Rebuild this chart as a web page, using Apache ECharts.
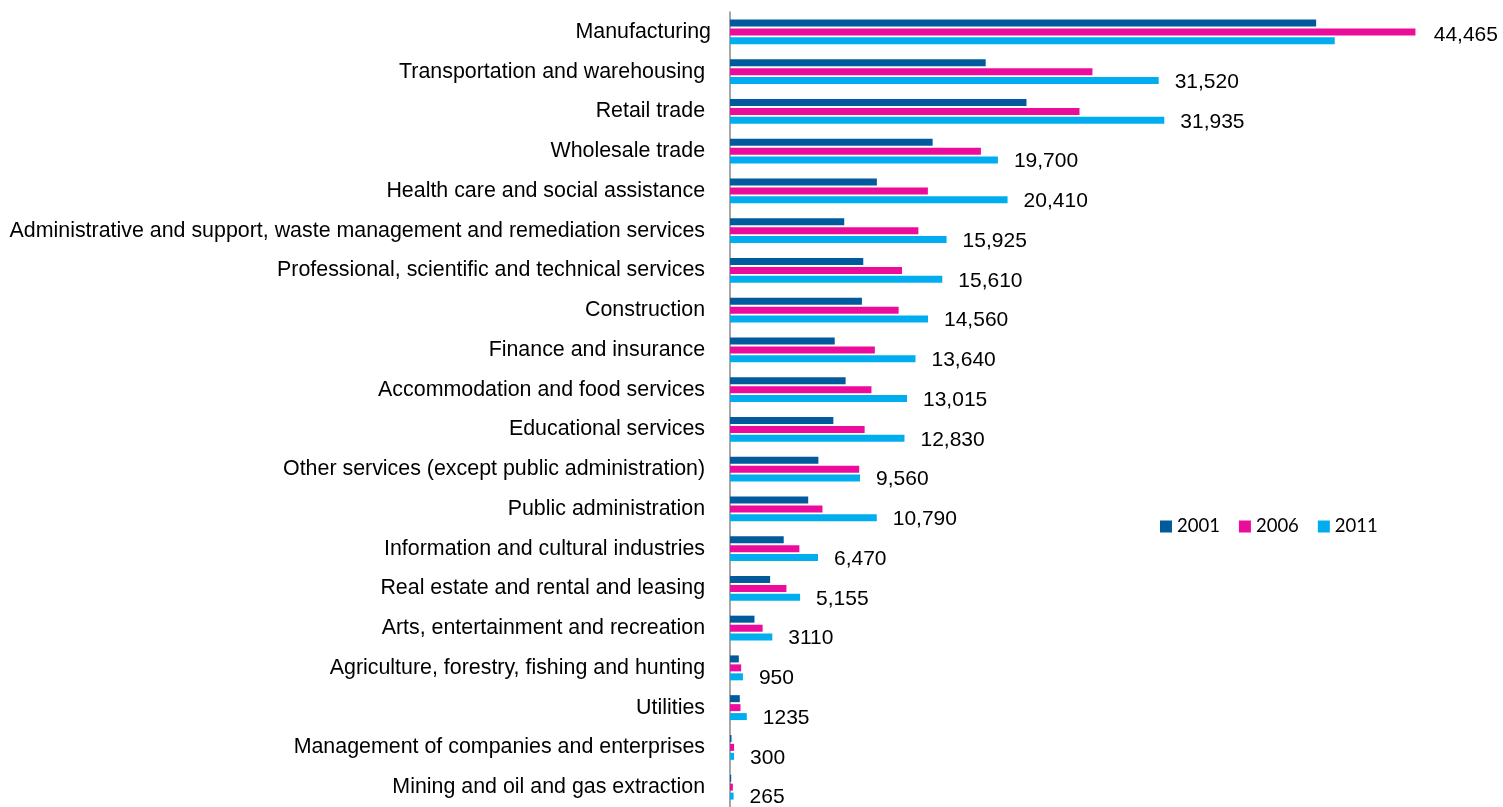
<!DOCTYPE html>
<html>
<head>
<meta charset="utf-8">
<script src="https://cdn.jsdelivr.net/npm/echarts@6/dist/echarts.min.js"></script>
<style>
html,body{margin:0;padding:0;background:#fff;}
#chart{width:1503px;height:807px;}
</style>
</head>
<body>
<div id="chart"></div>
<script>
const categories = [
  'Manufacturing',
  'Transportation and warehousing',
  'Retail trade',
  'Wholesale trade',
  'Health care and social assistance',
  'Administrative and support, waste management and remediation services',
  'Professional, scientific and technical services',
  'Construction',
  'Finance and insurance',
  'Accommodation and food services',
  'Educational services',
  'Other services (except public administration)',
  'Public administration',
  'Information and cultural industries',
  'Real estate and rental and leasing',
  'Arts, entertainment and recreation',
  'Agriculture, forestry, fishing and hunting',
  'Utilities',
  'Management of companies and enterprises',
  'Mining and oil and gas extraction'
];
const seriesNames = ['2001', '2006', '2011'];
const values2001 = [43100, 18800, 21800, 14900, 10800, 8400, 9800, 9700, 7700, 8500, 7600, 6500, 5750, 3950, 2950, 1800, 650, 720, 110, 90];
const values2006 = [50400, 26650, 25700, 18450, 14550, 13850, 12650, 12400, 10650, 10400, 9900, 9500, 6800, 5100, 4150, 2400, 820, 770, 300, 210];
const values2011 = [44465, 31520, 31935, 19700, 20410, 15925, 15610, 14560, 13640, 13015, 12830, 9560, 10790, 6470, 5155, 3110, 950, 1235, 300, 265];
const labels2011 = ['44,465', '31,520', '31,935', '19,700', '20,410', '15,925', '15,610', '14,560', '13,640', '13,015', '12,830', '9,560', '10,790', '6,470', '5,155', '3110', '950', '1235', '300', '265'];

const colors = ['#005a9c', '#ec0c9c', '#00aeef'];
const FONT = '"Liberation Sans", Arial, sans-serif';

const chart = echarts.init(document.getElementById('chart'), null, {renderer: 'canvas'});

const data2011 = values2011.map((v, i) => i === 0 ? {value: v, label: {offset: [83, -6]}} : v);

const barBase = {
  type: 'bar',
  barWidth: 7,
  barGap: '28%',
  animation: false
};

chart.setOption({
  animation: false,
  color: colors,
  grid: {left: 730, top: 12, width: 748, height: 798, containLabel: false},
  legend: {
    data: seriesNames,
    left: 1160,
    top: 517,
    padding: 0,
    icon: 'rect',
    itemWidth: 12,
    itemHeight: 12,
    itemGap: 19,
    textStyle: {fontFamily: 'Lato, "Open Sans", sans-serif', fontSize: 18.5, color: '#000'}
  },
  xAxis: {
    type: 'value', min: 0, max: 55000, show: false,
    splitLine: {show: false}
  },
  yAxis: {
    type: 'category',
    inverse: true,
    data: categories,
    axisLine: {show: true, lineStyle: {color: '#8a8a8a', width: 1.5}},
    axisTick: {show: false},
    axisLabel: {
      fontFamily: FONT, fontSize: 21.4, color: '#000', margin: 19,
      formatter: (v, i) => i === 0 ? v : v + ' '
    }
  },
  series: [
    Object.assign({}, barBase, {name: seriesNames[0], data: values2001}),
    Object.assign({}, barBase, {name: seriesNames[1], data: values2006}),
    Object.assign({}, barBase, {
      name: seriesNames[2], data: data2011,
      label: {
        show: true, position: 'right', distance: 16, offset: [0, 1.5],
        fontFamily: FONT, fontSize: 21, color: '#000',
        formatter: p => labels2011[p.dataIndex]
      }
    })
  ]
});
</script>
</body>
</html>
